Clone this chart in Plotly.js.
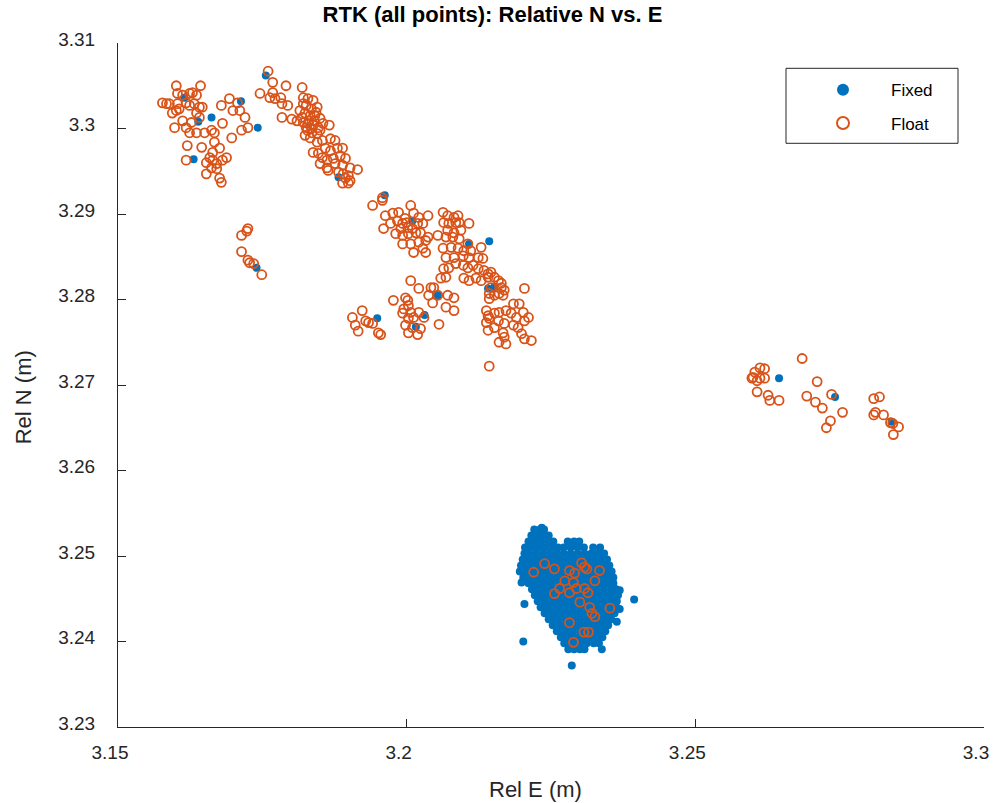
<!DOCTYPE html>
<html><head><meta charset="utf-8">
<script src="https://cdn.plot.ly/plotly-3.0.1.min.js"></script>
<style>html,body{margin:0;padding:0;background:#fff}#chart{width:997px;height:803px}</style>
</head><body><div id="chart"></div><script>
// ---------- DATA (Rel E, Rel N) in metres ----------
// Float solutions, grouped by cluster
const floatWestGroup = [[3.1601,3.3050],[3.1643,3.3050],[3.1603,3.3041],[3.1612,3.3039],[3.1624,3.3041],[3.1629,3.3042],[3.1636,3.3039],[3.1577,3.3030],[3.1584,3.3029],[3.1589,3.3029],[3.1603,3.3029],[3.1606,3.3023],[3.1601,3.3021],[3.1618,3.3030],[3.1624,3.3027],[3.1632,3.3029],[3.1641,3.3025],[3.1646,3.3025],[3.1594,3.3018],[3.1612,3.3009],[3.1627,3.3007],[3.1636,3.3018],[3.1641,3.3013],[3.1618,3.3001],[3.1624,3.2995],[3.1636,3.2995],[3.1650,3.2995],[3.1662,3.2998],[3.1667,3.2995],[3.1598,3.3001],[3.1679,3.3027],[3.1693,3.3035],[3.1699,3.3021],[3.1711,3.3021],[3.1707,3.3030],[3.1720,3.3013],[3.1714,3.2998],[3.1725,3.3001],[3.1697,3.2989],[3.1681,3.3006],[3.1667,3.2984],[3.1664,3.2972],[3.1676,3.2977],[3.1659,3.2966],[3.1653,3.2960],[3.1664,3.2963],[3.1671,3.2959],[3.1681,3.2963],[3.1688,3.2966],[3.1662,3.2954],[3.1671,3.2953],[3.1653,3.2947],[3.1676,3.2942],[3.1679,3.2937],[3.1620,3.2980],[3.1618,3.2963],[3.1645,3.2978]];
const floatRidgeGroup = [[3.1760,3.3067],[3.1768,3.3054],[3.1791,3.3050],[3.1819,3.3048],[3.1746,3.3041],[3.1768,3.3042],[3.1763,3.3036],[3.1772,3.3035],[3.1782,3.3036],[3.1784,3.3029],[3.1794,3.3027],[3.1821,3.3036],[3.1829,3.3035],[3.1838,3.3033],[3.1845,3.3025],[3.1815,3.3021],[3.1824,3.3018],[3.1833,3.3015],[3.1841,3.3015],[3.1850,3.3012],[3.1821,3.3007],[3.1829,3.3006],[3.1838,3.3004],[3.1847,3.3001],[3.1855,3.3006],[3.1828,3.2998],[3.1836,3.2995],[3.1845,3.2994],[3.1824,3.2992],[3.1833,3.2989],[3.1784,3.3013],[3.1801,3.3011],[3.1810,3.3009],[3.1866,3.3004],[3.1845,3.2984],[3.1854,3.2986],[3.1868,3.2988],[3.1876,3.2986],[3.1838,3.2972],[3.1847,3.2971],[3.1859,3.2977],[3.1868,3.2974],[3.1880,3.2977],[3.1889,3.2977],[3.1854,3.2966],[3.1862,3.2963],[3.1873,3.2965],[3.1885,3.2968],[3.1894,3.2965],[3.1850,3.2959],[3.1862,3.2954],[3.1876,3.2959],[3.1889,3.2957],[3.1902,3.2954],[3.1915,3.2952],[3.1864,3.2951],[3.1882,3.2949],[3.1890,3.2947],[3.1899,3.2945],[3.1894,3.2942],[3.1902,3.2939],[3.1889,3.2936],[3.1899,3.2936],[3.1958,3.2919],[3.1826,3.3027],[3.1835,3.3023],[3.1843,3.3019],[3.1819,3.3013],[3.1831,3.3009],[3.1840,3.3009],[3.1826,3.3001],[3.1835,3.3000],[3.1821,3.3029],[3.1850,3.2998]];
const floatCentralGroup = [[3.1941,3.2910],[3.1958,3.2916],[3.1963,3.2898],[3.1976,3.2901],[3.1986,3.2902],[3.2007,3.2910],[3.2012,3.2901],[3.2021,3.2896],[3.2037,3.2898],[3.1960,3.2883],[3.1972,3.2889],[3.1984,3.2892],[3.1993,3.2889],[3.2002,3.2884],[3.2010,3.2883],[3.2019,3.2889],[3.2028,3.2889],[3.1981,3.2877],[3.1993,3.2875],[3.2003,3.2877],[3.2016,3.2878],[3.2024,3.2878],[3.2037,3.2873],[3.1993,3.2865],[3.2007,3.2865],[3.2021,3.2867],[3.2033,3.2869],[3.2012,3.2855],[3.2028,3.2860],[3.2033,3.2855],[3.1997,3.2895],[3.1990,3.2883],[3.2000,3.2890]];
const floatColumnGroup = [[3.2063,3.2902],[3.2071,3.2898],[3.2082,3.2896],[3.2089,3.2898],[3.2064,3.2890],[3.2073,3.2889],[3.2085,3.2890],[3.2091,3.2890],[3.2108,3.2889],[3.2071,3.2881],[3.2082,3.2878],[3.2094,3.2881],[3.2054,3.2875],[3.2068,3.2873],[3.2080,3.2873],[3.2091,3.2871],[3.2106,3.2865],[3.2129,3.2861],[3.2063,3.2860],[3.2077,3.2861],[3.2089,3.2860],[3.2099,3.2857],[3.2111,3.2857],[3.2124,3.2849],[3.2132,3.2848],[3.2068,3.2849],[3.2082,3.2849],[3.2098,3.2851],[3.2108,3.2849],[3.2064,3.2836],[3.2073,3.2837],[3.2085,3.2842],[3.2098,3.2840],[3.2106,3.2837],[3.2115,3.2840],[3.2124,3.2836],[3.2134,3.2834],[3.2141,3.2830],[3.2146,3.2832],[3.2059,3.2825],[3.2068,3.2826],[3.2099,3.2825],[3.2108,3.2822],[3.2120,3.2825],[3.2129,3.2822],[3.2141,3.2826],[3.2152,3.2826],[3.2159,3.2822],[3.2164,3.2819],[3.2146,3.2814],[3.2164,3.2814],[3.2169,3.2811],[3.2143,3.2807],[3.2152,3.2805],[3.2160,3.2807],[3.2167,3.2805],[3.2143,3.2801],[3.2204,3.2813]];
const floatSouthGroup = [[3.2007,3.2822],[3.2021,3.2813],[3.2042,3.2814],[3.2047,3.2814],[3.2038,3.2805],[3.2054,3.2805],[3.2071,3.2805],[3.2082,3.2802],[3.1977,3.2799],[3.1998,3.2802],[3.2002,3.2799],[3.2003,3.2793],[3.1995,3.2789],[3.2007,3.2785],[3.1993,3.2784],[3.2045,3.2796],[3.2068,3.2791],[3.2082,3.2787],[3.2021,3.2785],[3.2012,3.2779],[3.2030,3.2779],[3.2003,3.2778],[3.1998,3.2770],[3.2010,3.2767],[3.2024,3.2766],[3.2003,3.2761],[3.2019,3.2759],[3.2056,3.2771]];
const floatSouthWestGroup = [[3.1923,3.2787],[3.1906,3.2779],[3.1929,3.2775],[3.1934,3.2773],[3.1941,3.2772],[3.1911,3.2770],[3.1916,3.2763],[3.1951,3.2761],[3.1955,3.2759]];
const floatSouthEastGroup = [[3.2138,3.2787],[3.2141,3.2781],[3.2143,3.2778],[3.2138,3.2773],[3.2152,3.2784],[3.2160,3.2785],[3.2172,3.2787],[3.2185,3.2795],[3.2195,3.2795],[3.2181,3.2784],[3.2190,3.2779],[3.2202,3.2785],[3.2211,3.2779],[3.2204,3.2775],[3.2159,3.2775],[3.2169,3.2772],[3.2185,3.2770],[3.2193,3.2767],[3.2141,3.2764],[3.2152,3.2767],[3.2167,3.2761],[3.2199,3.2760],[3.2204,3.2754],[3.2216,3.2752],[3.2169,3.2756],[3.2160,3.2750],[3.2172,3.2748],[3.2143,3.2722]];
const floatArcGroup = [[3.1725,3.2883],[3.1723,3.2880],[3.1714,3.2875],[3.1714,3.2856],[3.1725,3.2846],[3.1728,3.2843],[3.1735,3.2842],[3.1749,3.2829]];
const floatEastGroup = [[3.2685,3.2731],[3.2612,3.2720],[3.2620,3.2719],[3.2603,3.2715],[3.2600,3.2709],[3.2607,3.2705],[3.2612,3.2708],[3.2620,3.2708],[3.2598,3.2708],[3.2607,3.2692],[3.2626,3.2688],[3.2629,3.2682],[3.2645,3.2682],[3.2711,3.2704],[3.2693,3.2687],[3.2708,3.2680],[3.2720,3.2673],[3.2736,3.2689],[3.2755,3.2668],[3.2734,3.2658],[3.2727,3.2650],[3.2809,3.2684],[3.2819,3.2686],[3.2812,3.2668],[3.2809,3.2665],[3.2826,3.2665],[3.2838,3.2656],[3.2842,3.2655],[3.2852,3.2651],[3.2843,3.2642]];
const floatInBlob = [[3.2220,3.2481],[3.2239,3.2491],[3.2256,3.2485],[3.2282,3.2483],[3.2303,3.2492],[3.2312,3.2485],[3.2308,3.2487],[3.2334,3.2483],[3.2291,3.2480],[3.2274,3.2471],[3.2289,3.2469],[3.2326,3.2471],[3.2265,3.2462],[3.2256,3.2456],[3.2282,3.2457],[3.2294,3.2462],[3.2308,3.2462],[3.2314,3.2457],[3.2300,3.2446],[3.2317,3.2440],[3.2321,3.2433],[3.2326,3.2429],[3.2352,3.2439],[3.2282,3.2422],[3.2307,3.2411],[3.2315,3.2411],[3.2289,3.2399]];

// Fixed solutions
const fixedScattered = [[3.1615,3.3036],[3.1639,3.3008],[3.1662,3.3013],[3.1713,3.3032],[3.1742,3.3001],[3.1631,3.2964],[3.1756,3.3062],[3.1882,3.2943],[3.1962,3.2922],[3.2010,3.2892],[3.2108,3.2865],[3.2143,3.2868],[3.2141,3.2813],[3.2152,3.2815],[3.2031,3.2782],[3.2016,3.2768],[3.2054,3.2805],[3.1949,3.2778],[3.1740,3.2837],[3.2645,3.2708],[3.2742,3.2686],[3.2840,3.2657]];
const fixedBlobOutliers = [[3.2394,3.2449],[3.2202,3.2400],[3.2286,3.2372],[3.2204,3.2444],[3.2199,3.2469],[3.2369,3.2460],[3.2364,3.2423],[3.2369,3.2438],[3.2234,3.2533],[3.2224,3.2527]];
// dense fixed cluster, one row per Rel N value: [N, [E values]]
const fixedBlobRows = [
 [3.2531,[3.2221,3.2231,3.2238]],
 [3.2524,[3.2216,3.2227,3.2239,3.2246]],
 [3.2517,[3.2211,3.2222,3.2233,3.2245,3.2254,3.2279,3.2290,3.2299]],
 [3.2510,[3.2205,3.2216,3.2228,3.2240,3.2252,3.2262,3.2272,3.2284,3.2296,3.2307,3.2323,3.2335]],
 [3.2503,[3.2204,3.2212,3.2224,3.2236,3.2248,3.2260,3.2272,3.2284,3.2296,3.2308,3.2320,3.2332,3.2342]],
 [3.2496,[3.2201,3.2210,3.2220,3.2230,3.2242,3.2254,3.2266,3.2278,3.2290,3.2302,3.2314,3.2326,3.2338,3.2347]],
 [3.2489,[3.2198,3.2206,3.2216,3.2226,3.2236,3.2248,3.2260,3.2272,3.2284,3.2296,3.2308,3.2320,3.2332,3.2344,3.2351]],
 [3.2482,[3.2196,3.2204,3.2214,3.2224,3.2232,3.2242,3.2254,3.2266,3.2278,3.2290,3.2302,3.2314,3.2326,3.2338,3.2348,3.2355]],
 [3.2475,[3.2202,3.2211,3.2220,3.2230,3.2238,3.2248,3.2260,3.2272,3.2284,3.2296,3.2308,3.2320,3.2332,3.2344,3.2354,3.2358]],
 [3.2468,[3.2211,3.2220,3.2230,3.2240,3.2252,3.2264,3.2276,3.2288,3.2300,3.2312,3.2324,3.2336,3.2348,3.2358]],
 [3.2461,[3.2217,3.2226,3.2236,3.2246,3.2258,3.2270,3.2282,3.2294,3.2306,3.2318,3.2330,3.2342,3.2354,3.2363]],
 [3.2454,[3.2222,3.2232,3.2242,3.2252,3.2264,3.2276,3.2288,3.2300,3.2312,3.2324,3.2336,3.2348,3.2358,3.2366]],
 [3.2447,[3.2227,3.2237,3.2247,3.2258,3.2270,3.2282,3.2294,3.2306,3.2318,3.2330,3.2342,3.2354,3.2364]],
 [3.2440,[3.2232,3.2242,3.2252,3.2264,3.2276,3.2288,3.2300,3.2312,3.2324,3.2336,3.2348,3.2358,3.2363]],
 [3.2433,[3.2239,3.2248,3.2258,3.2270,3.2282,3.2294,3.2306,3.2318,3.2330,3.2342,3.2352,3.2360]],
 [3.2426,[3.2246,3.2255,3.2264,3.2276,3.2288,3.2300,3.2312,3.2324,3.2336,3.2346,3.2354]],
 [3.2419,[3.2253,3.2262,3.2272,3.2282,3.2294,3.2306,3.2318,3.2330,3.2340,3.2349]],
 [3.2412,[3.2260,3.2268,3.2278,3.2288,3.2300,3.2312,3.2324,3.2334,3.2344]],
 [3.2405,[3.2267,3.2276,3.2286,3.2296,3.2306,3.2318,3.2330,3.2339]],
 [3.2398,[3.2273,3.2282,3.2292,3.2302,3.2312,3.2324,3.2333]],
 [3.2391,[3.2280,3.2290,3.2300,3.2308,3.2338]]
];

const xTickVals = [3.15, 3.2, 3.25, 3.3];
const xTickText = ['3.15', '3.2', '3.25', '3.3'];
const yTickVals = [3.23, 3.24, 3.25, 3.26, 3.27, 3.28, 3.29, 3.3, 3.31];
const yTickText = ['3.23', '3.24', '3.25', '3.26', '3.27', '3.28', '3.29', '3.3', '3.31'];

// ---------- BUILD ----------
const fixedPairs = [];
fixedBlobRows.forEach(r => r[1].forEach(e => fixedPairs.push([e, r[0]])));
fixedBlobOutliers.forEach(p => fixedPairs.push(p));
fixedScattered.forEach(p => fixedPairs.push(p));
const floatPairs = [].concat(floatWestGroup, floatRidgeGroup, floatCentralGroup, floatColumnGroup,
  floatSouthGroup, floatSouthWestGroup, floatSouthEastGroup, floatArcGroup, floatEastGroup, floatInBlob);

const FONT = 'Liberation Sans, Arial, Helvetica, sans-serif';
const AX = '#262626';

const traces = [
  {x: fixedPairs.map(p => p[0]), y: fixedPairs.map(p => p[1]), type: 'scatter', mode: 'markers', name: 'Fixed',
   legendgroup: 'g1', marker: {symbol: 'circle', size: 8, color: '#0072BD', line: {width: 0}}},
  {x: floatPairs.map(p => p[0]), y: floatPairs.map(p => p[1]), type: 'scatter', mode: 'markers', name: 'Float',
   legendgroup: 'g2', marker: {symbol: 'circle-open', size: 9, color: '#D95319', line: {width: 1.8, color: '#D95319'}}}
];

const PW = 866, PH = 684, L = 118, T = 42.7;
const px2x = p => (p - L) / PW;
const py2y = p => (T + PH - p) / PH;

const axisCommon = {
  ticks: 'inside', ticklen: 8, tickwidth: 1, tickcolor: AX,
  showline: true, linecolor: AX, linewidth: 1, mirror: false,
  showgrid: false, zeroline: false,
  tickfont: {family: FONT, size: 19, color: AX}
};

const layout = {
  width: 997, height: 803,
  margin: {l: 118, r: 13, t: 43, b: 76, pad: 0},
  paper_bgcolor: '#fff', plot_bgcolor: '#fff',
  title: {text: '<b>RTK (all points): Relative N vs. E</b>', font: {family: FONT, size: 22, color: '#000'},
          xref: 'paper', x: px2x(492.5), xanchor: 'center', yref: 'container', y: 1 - 14/803, yanchor: 'middle'},
  xaxis: Object.assign({}, axisCommon, {range: [3.15, 3.3], tickmode: 'array', tickvals: xTickVals, ticktext: xTickText,
          ticklabelstandoff: 8, ticklabelshift: -8}),
  yaxis: Object.assign({}, axisCommon, {range: [3.23, 3.31], tickmode: 'array', tickvals: yTickVals, ticktext: yTickText,
          ticklabelstandoff: 18, ticklabelshift: -4}),
  showlegend: true,
  legend: {x: px2x(795), xanchor: 'left', y: py2y(72), yanchor: 'top', bgcolor: 'rgba(0,0,0,0)', borderwidth: 0,
           font: {family: FONT, size: 17, color: '#000'}, itemwidth: 86, itemsizing: 'constant', tracegroupgap: 8},
  shapes: [{type: 'rect', xref: 'paper', yref: 'paper', x0: px2x(786), x1: px2x(958), y0: py2y(143), y1: py2y(68),
            line: {color: AX, width: 1}, fillcolor: '#fff', layer: 'above'}],
  annotations: [
    {text: 'Rel E (m)', xref: 'paper', yref: 'paper', x: px2x(535), y: py2y(789), xanchor: 'center', yanchor: 'middle',
     showarrow: false, font: {family: FONT, size: 22, color: AX}},
    {text: 'Rel N (m)', xref: 'paper', yref: 'paper', x: px2x(23), y: py2y(397), xanchor: 'center', yanchor: 'middle',
     textangle: -90, showarrow: false, font: {family: FONT, size: 22, color: AX}}
  ]
};

Plotly.newPlot('chart', traces, layout, {displayModeBar: false, staticPlot: true});
</script></body></html>
